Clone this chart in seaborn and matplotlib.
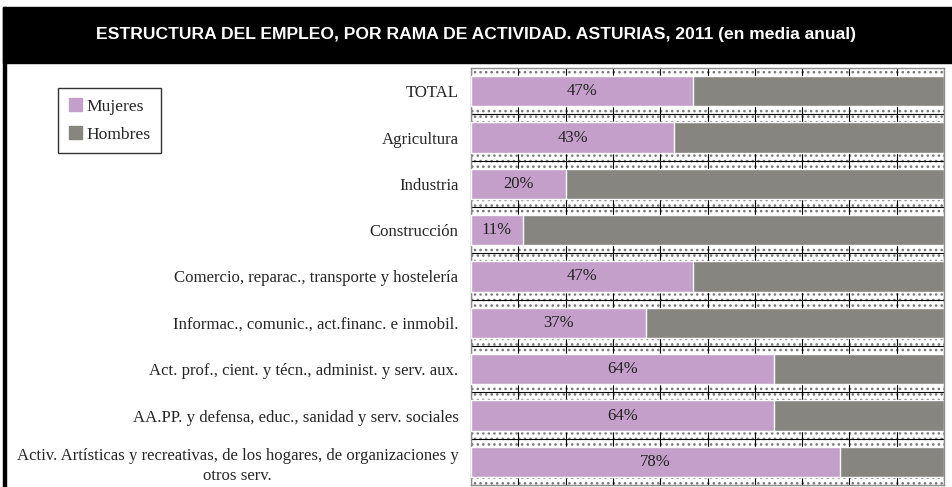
import matplotlib.pyplot as plt
import matplotlib.patches as mpatches
import seaborn as sns
import pandas as pd

# Datos (% sobre el empleo de cada rama)
ramas = [
    'TOTAL',
    'Agricultura',
    'Industria',
    'Construcción',
    'Comercio, reparac., transporte y hostelería',
    'Informac., comunic., act.financ. e inmobil.',
    'Act. prof., cient. y técn., administ. y serv. aux.',
    'AA.PP. y defensa, educ., sanidad y serv. sociales',
    'Activ. Artísticas y recreativas, de los hogares, de organizaciones y\notros serv.',
]
mujeres = [47, 43, 20, 11, 47, 37, 64, 64, 78]
hombres = [53, 57, 80, 89, 53, 63, 36, 36, 22]

col_muj = '#C39FC9'
col_hom = '#878580'

df = pd.DataFrame({'rama': ramas, 'mujeres': mujeres, 'hombres': hombres})
df['total'] = df['mujeres'] + df['hombres']

sns.set_style('white')
plt.rcParams['font.family'] = ['Liberation Serif', 'DejaVu Serif']
plt.rcParams['hatch.linewidth'] = 1.1

fig = plt.figure(figsize=(9.52, 4.87), dpi=100)
ax = fig.add_axes([471 / 952, 2 / 487, 473 / 952, 417 / 487])

# fondo punteado
fondo = mpatches.Rectangle((0, 0), 1, 1, transform=ax.transAxes, facecolor='white',
                           edgecolor='#7a7a7a', linewidth=0, hatch='...', zorder=0.1)
ax.add_patch(fondo)

sns.barplot(data=df, x='total', y='rama', color=col_hom, width=0.65,
            saturation=1, orient='h', ax=ax, zorder=2)
sns.barplot(data=df, x='mujeres', y='rama', color=col_muj, width=0.65,
            saturation=1, orient='h', ax=ax, zorder=3)

ax.bar_label(ax.containers[1], labels=[f'{v}%' for v in mujeres],
             label_type='center', fontsize=12, color='#222222')

ax.set_xlim(0, 100)
ax.set_ylim(len(ramas) - 0.5, -0.5)
ax.set_xticks(range(0, 101, 10))
ax.set_axisbelow(True)
ax.grid(axis='x', color='black', linewidth=0.8)
for line in ax.get_xgridlines():
    line.set_zorder(0.5)
for i in range(len(ramas) - 1):
    ax.axhline(i + 0.5, color='black', linewidth=0.8, zorder=1)

ax.set_xlabel('')
ax.set_ylabel('')
ax.tick_params(axis='x', length=0, labelbottom=False)
ax.tick_params(axis='y', length=0, pad=9, labelsize=12.05)
for lab in ax.get_yticklabels():
    lab.set_multialignment('center')
    lab.set_linespacing(1.35)
for s in ax.spines.values():
    s.set_color('#8c8c8c')
    s.set_linewidth(1)

# cabecera negra y borde izquierdo
fig.patches.append(mpatches.Rectangle((3 / 952, 1 - 63 / 487), 949 / 952, 56 / 487,
                                      transform=fig.transFigure, color='black', zorder=0))
fig.patches.append(mpatches.Rectangle((3 / 952, 0), 2.5 / 952, 1 - 7 / 487,
                                      transform=fig.transFigure, color='black', zorder=0))
fig.text(476 / 952, 1 - 35 / 487,
         'ESTRUCTURA DEL EMPLEO, POR RAMA DE ACTIVIDAD. ASTURIAS, 2011 (en media anual)',
         ha='center', va='center', color='white', fontsize=12.6, fontweight='bold',
         family=['Liberation Sans', 'DejaVu Sans'])

handles = [mpatches.Patch(color=col_muj, label='Mujeres'),
           mpatches.Patch(color=col_hom, label='Hombres')]
leg = fig.legend(handles=handles, loc='upper left',
                 bbox_to_anchor=(58 / 952, 1 - 88 / 487), fontsize=12.6,
                 frameon=True, fancybox=False, handlelength=0.75, handleheight=0.75,
                 handletextpad=0.25, labelspacing=0.65, borderpad=0.6, borderaxespad=0)
leg.get_frame().set_edgecolor('black')
leg.get_frame().set_linewidth(1)

fig.savefig('out.png', dpi=100)
plt.close()
